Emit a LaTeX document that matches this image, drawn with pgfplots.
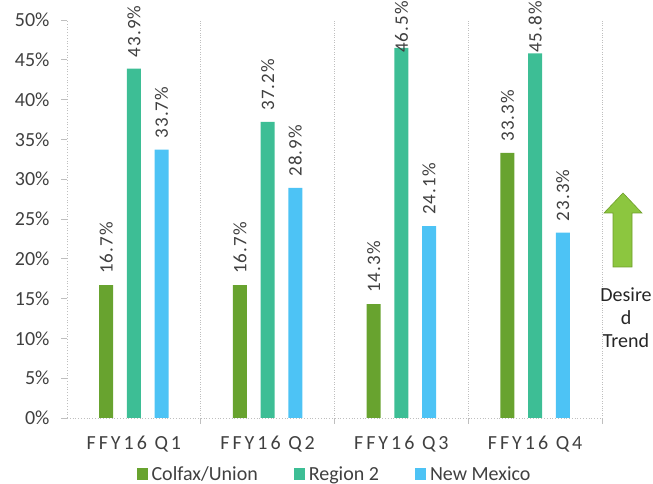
\documentclass[border=0pt]{standalone}
\usepackage{fontspec}
\setmainfont{Carlito}
\newfontfamily\spaced[LetterSpace=15]{Carlito}
\newfontfamily\lblfont[LetterSpace=6]{Carlito}
\usepackage{pgfplots}
\pgfplotsset{compat=1.18}
\definecolor{cgreen}{HTML}{68A32F}
\definecolor{cteal}{HTML}{3DBE95}
\definecolor{cblue}{HTML}{4DC3F5}
\definecolor{txt}{HTML}{404040}
\definecolor{axgray}{HTML}{BFBFBF}
\definecolor{arrowfill}{HTML}{8CC63F}
\definecolor{arrowdraw}{HTML}{6E9E2A}
\begin{document}
\begin{tikzpicture}[x=1bp,y=1bp]
\path[use as bounding box] (0,0) rectangle (653,484);
\begin{axis}[
  at={(67bp,66bp)}, anchor=south west,
  scale only axis, width=535bp, height=398bp,
  xmin=-0.5, xmax=3.5, ymin=0, ymax=50,
  /pgf/number format/assume math mode=true,
  axis x line*=bottom, axis y line*=left,
  axis line style={draw=axgray, dotted, line width=0.8pt, -},
  tick align=outside,
  major tick length=6bp,
  tick style={draw=axgray, solid, line width=0.8pt},
  xtick={0.5,1.5,2.5,3.5},
  xticklabels={},
  xmajorgrids,
  grid style={draw=axgray, dotted, line width=0.8pt},
  extra x ticks={0,1,2,3},
  extra x tick labels={FFY16 Q1,FFY16 Q2,FFY16 Q3,FFY16 Q4},
  extra x tick style={grid=none, major tick length=0pt},
  ytick={0,5,10,15,20,25,30,35,40,45,50},
  yticklabels={0\%,5\%,10\%,15\%,20\%,25\%,30\%,35\%,40\%,45\%,50\%},
  yticklabel style={font=\fontsize{20bp}{24bp}\selectfont, text=txt, xshift=-8bp},
  xticklabel style={font=\spaced\fontsize{20bp}{24bp}\selectfont, text=txt, yshift=-14bp},
  ybar, bar width=0.105,
  visualization depends on={rawy \as \rawy},
  nodes near coords={\pgfmathprintnumber[fixed,fixed zerofill,precision=1]{\pgfplotspointmeta}\%},
  every node near coord/.append style={rotate=90, anchor=west,
    font=\lblfont\fontsize{19bp}{22bp}\selectfont, text=txt, inner sep=0pt,
    xshift={min(11bp,(50-\rawy)*7.96bp-33bp)}},
  legend columns=3,
  legend style={at={(0.5,-0.141)}, anchor=center, draw=none, fill=none,
    font=\fontsize{20bp}{24bp}\selectfont, text=txt,
    column sep=2bp,
    /tikz/every even column/.append style={column sep=34bp}},
  legend image code/.code={\fill[#1,draw=none] (0bp,-6bp) rectangle (11bp,6bp);},
]
\addplot[fill=cgreen, draw=none, bar shift=-0.207] coordinates {(0,16.7) (1,16.7) (2,14.3) (3,33.3)};
\addplot[fill=cteal, draw=none, bar shift=0] coordinates {(0,43.9) (1,37.2) (2,46.5) (3,45.8)};
\addplot[fill=cblue, draw=none, bar shift=0.207] coordinates {(0,33.7) (1,28.9) (2,24.1) (3,23.3)};
\legend{Colfax/Union,Region 2,New Mexico}
\end{axis}
\fill[arrowfill, draw=arrowdraw, line width=0.6pt]
  (623,291) -- (642,271) -- (632,271) -- (632,217) -- (613,217) -- (613,271) -- (604,271) -- cycle;
\node[align=center, text=black!85, font=\fontsize{20bp}{23bp}\selectfont] at (626,166) {Desire\\d\\Trend};
\end{tikzpicture}
\end{document}
